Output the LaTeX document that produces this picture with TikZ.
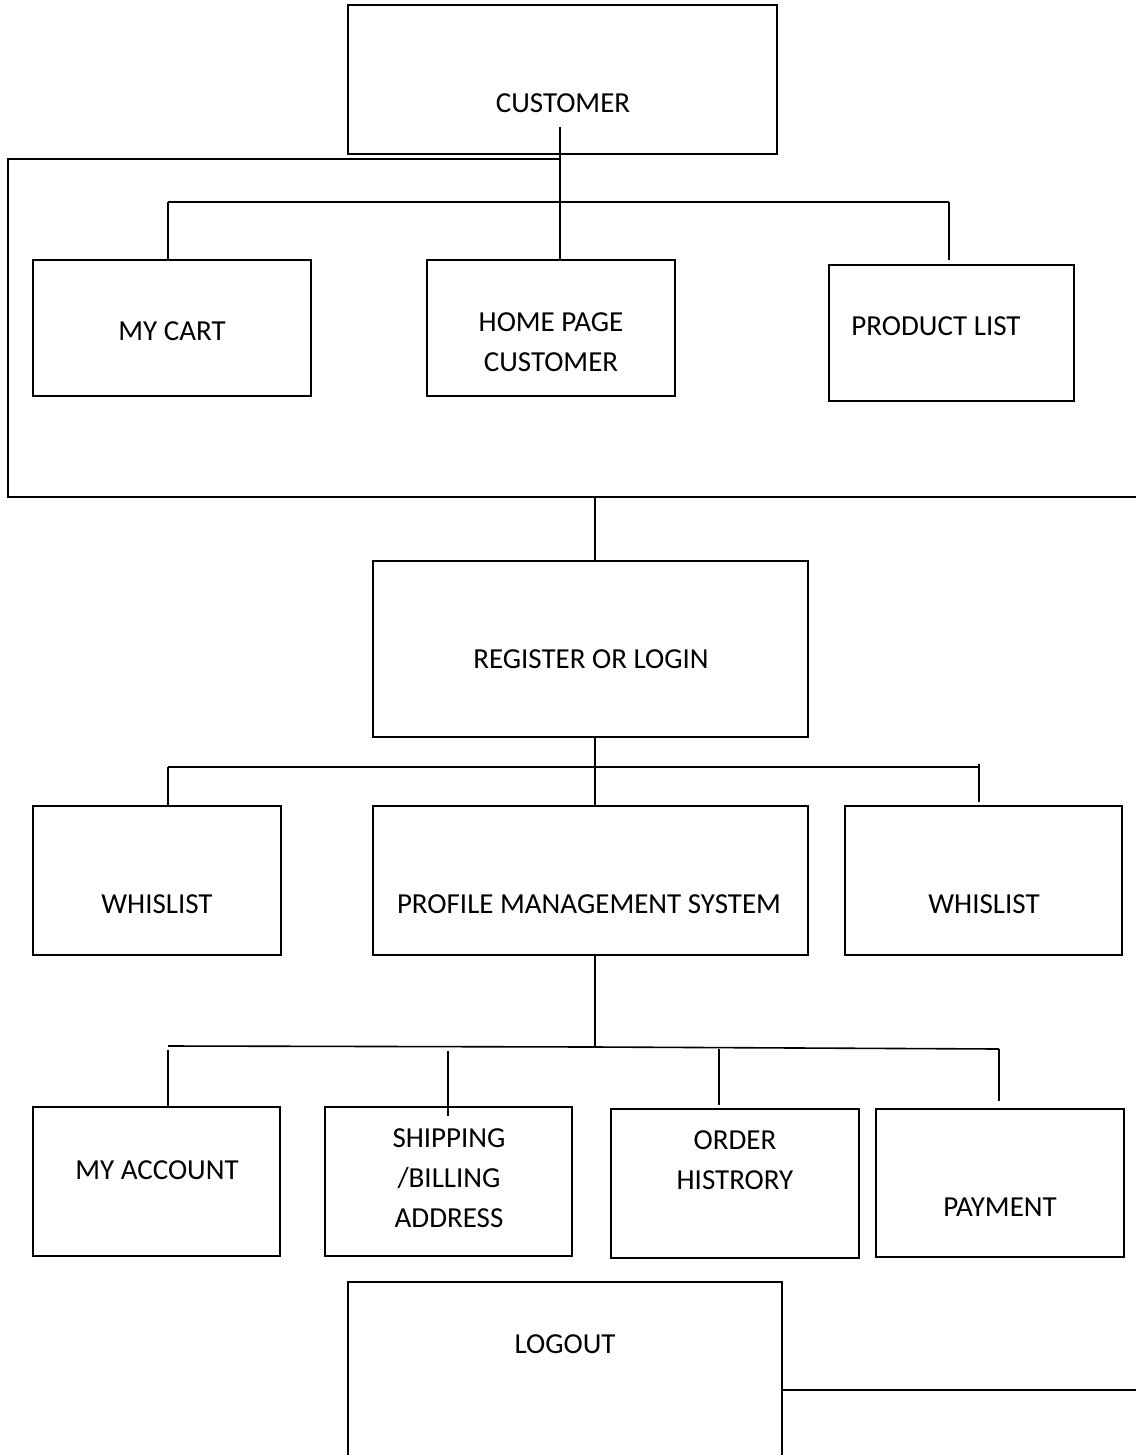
\documentclass[tikz,border=0pt]{standalone}
\usepackage{fontspec}
\setmainfont{Carlito}
\begin{document}
\begin{tikzpicture}[x=0.5pt,y=-0.5pt,
  box/.style 2 args={draw,line width=1pt,inner sep=0pt,minimum width=#1*0.5pt,minimum height=#2*0.5pt},
  lbl/.style={inner sep=0pt,align=center,font=\fontsize{14.5}{20}\selectfont},
  conn/.style={line width=0.8pt}]
\useasboundingbox (0,0) rectangle (1136,1455);
% boxes
\node[box={429}{149}] (cust) at (562.5,79.5) {};
\node[box={278}{136}] (cart) at (172,328) {};
\node[box={248}{136}] (home) at (551,328) {};
\node[box={245}{136}] (prod) at (951.5,333) {};
\node[box={435}{176}] (reg) at (590.5,649) {};
\node[box={248}{149}] (wl1) at (157,880.5) {};
\node[box={435}{149}] (pms) at (590.5,880.5) {};
\node[box={277}{149}] (wl2) at (983.5,880.5) {};
\node[box={247}{149}] (acct) at (156.5,1181.5) {};
\node[box={247}{149}] (ship) at (448.5,1181.5) {};
\node[box={248}{149}] (order) at (735,1183.5) {};
\node[box={248}{148}] (pay) at (1000,1183) {};
\node[box={434}{188}] (logout) at (565,1376) {};
% texts
\node[lbl] (tcust) at (563,103.5) {CUSTOMER};
\node[lbl] (tcart) at (172,331) {MY CART};
\node[lbl] (thome) at (551,342.5) {HOME PAGE\\CUSTOMER};
\node[lbl] (tprod) at (936,326.5) {PRODUCT LIST};
\node[lbl] (treg) at (591,659) {REGISTER OR LOGIN};
\node[lbl] (twl1) at (157,904) {WHISLIST};
\node[lbl] (tpms) at (589,904) {PROFILE MANAGEMENT SYSTEM};
\node[lbl] (twl2) at (984,904) {WHISLIST};
\node[lbl] (tacct) at (157,1170) {MY ACCOUNT};
\node[lbl] (tship) at (449,1178.5) {SHIPPING\\/BILLING\\ADDRESS};
\node[lbl] (torder) at (735,1160) {ORDER\\HISTRORY};
\node[lbl] (tpay) at (1000,1207.5) {PAYMENT};
\node[lbl] (tlogout) at (565,1344) {LOGOUT};
% junction coordinates
\coordinate (c0) at (560,127);
\coordinate (c1) at (560,159);
\coordinate (lt) at (8,159);
\coordinate (lb) at (8,497);
\coordinate (re) at (1136,497);
\coordinate (b1l) at (168,202);
\coordinate (b1r) at (949,202);
\coordinate (pl) at (949,260);
\coordinate (r0) at (595,497);
\coordinate (b2l) at (168,767);
\coordinate (b2r) at (979,767);
\coordinate (t2a) at (979,764);
\coordinate (t2b) at (979,802);
\coordinate (p0) at (595,1047);
\coordinate (b3l) at (168,1046);
\coordinate (b3r) at (999,1049);
\coordinate (s1) at (168,1050);
\coordinate (s2a) at (448,1051);
\coordinate (s2b) at (448,1116);
\coordinate (s3a) at (719,1049);
\coordinate (s3b) at (719,1105);
\coordinate (s4b) at (999,1101);
\coordinate (lo) at (1136,1390);
% connectors
\draw[conn] (c0) -- (c0 |- home.north);
\draw[conn] (c1) -- (lt) -- (lb) -- (re);
\draw[conn] (b1l) -- (b1r);
\draw[conn] (b1l) -- (b1l |- cart.north);
\draw[conn] (b1r) -- (pl);
\draw[conn] (r0) -- (r0 |- reg.north);
\draw[conn] (r0 |- reg.south) -- (r0 |- pms.north);
\draw[conn] (b2l) -- (b2r);
\draw[conn] (b2l) -- (b2l |- wl1.north);
\draw[conn] (t2a) -- (t2b);
\draw[conn] (r0 |- pms.south) -- (p0);
\draw[conn] (b3l) -- (p0) -- (b3r);
\draw[conn] (s1) -- (s1 |- acct.north);
\draw[conn] (s2a) -- (s2b);
\draw[conn] (s3a) -- (s3b);
\draw[conn] (b3r) -- (s4b);
\draw[conn] (logout.east |- lo) -- (lo);
\end{tikzpicture}
\end{document}
